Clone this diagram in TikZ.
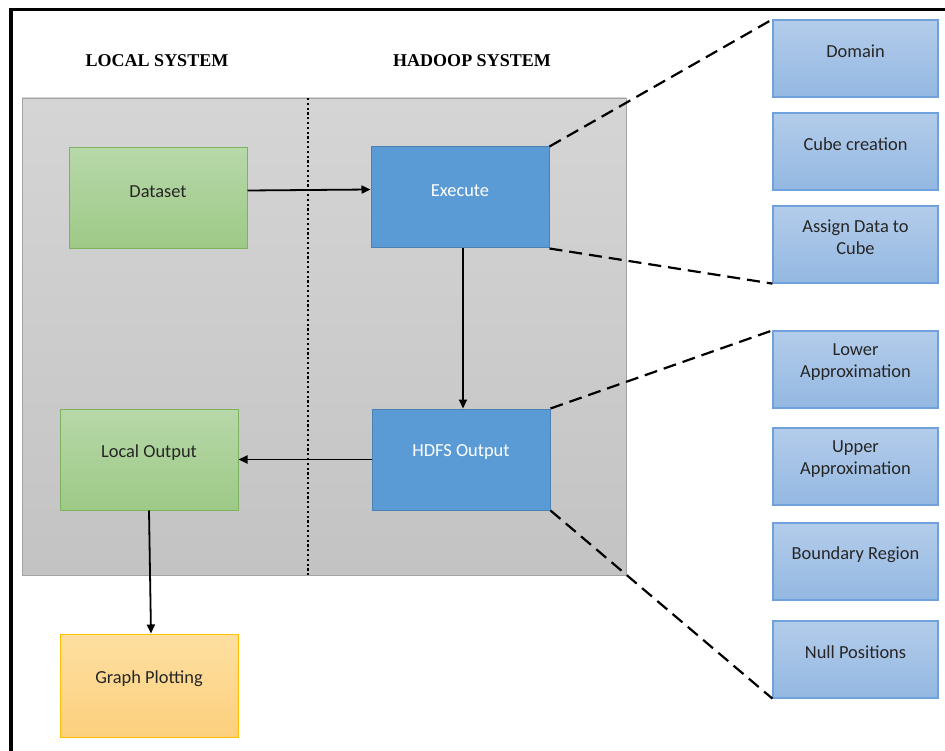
\documentclass[tikz,border=0pt]{standalone}
\usepackage{fontspec}
\setmainfont{Carlito}
\newfontfamily\headfont{Liberation Serif}
\usetikzlibrary{arrows.meta}

\definecolor{areatop}{HTML}{D5D5D5}
\definecolor{areabot}{HTML}{C3C3C3}
\definecolor{arealine}{HTML}{A3A3A3}
\definecolor{greentop}{HTML}{B7D8A9}
\definecolor{greenbot}{HTML}{9DC986}
\definecolor{greenline}{HTML}{7DB35E}
\definecolor{bluefill}{HTML}{5B9BD5}
\definecolor{blueline}{HTML}{4A80B4}
\definecolor{steptop}{HTML}{B3CCEA}
\definecolor{stepbot}{HTML}{94B8E2}
\definecolor{stepline}{HTML}{6FA1DD}
\definecolor{plottop}{HTML}{FEDFA1}
\definecolor{plotbot}{HTML}{FCD07D}
\definecolor{plotline}{HTML}{FFC000}
\definecolor{txt}{HTML}{262626}

\begin{document}
\begin{tikzpicture}[x=1pt, y=1pt, node distance={93pt},
    boxtext/.style={yshift=7pt, align=center, text=txt, font=\fontsize{18.4}{22}\selectfont},
    whitetext/.style={boxtext, text=white},
    heading/.style={font=\headfont\bfseries\fontsize{18}{20}\selectfont},
    greenbox/.style={draw=greenline, line width=1pt, top color=greentop, bottom color=greenbot, minimum width=178pt, minimum height=101pt},
    bluebox/.style={draw=blueline, line width=1pt, fill=bluefill, minimum width=178pt, minimum height=101pt},
    plotbox/.style={draw=plotline, line width=1pt, top color=plottop, bottom color=plotbot, minimum width=178pt, minimum height=103pt},
    stepbox/.style={draw=stepline, line width=1.2pt, top color=steptop, bottom color=stepbot, minimum width=165pt, minimum height=77pt},
    flow/.style={line width=1.8pt, -{Triangle[length=9pt,width=8pt]}},
    zoomline/.style={line width=2.2pt, dash pattern=on 13pt off 7pt}
  ]
    \useasboundingbox (0,0) rectangle (945,-751);
    \draw[line width=3.6pt] (11,-751) -- (11,-9.5) -- (945,-9.5);

    \node[heading] (localhead) at (157,-61) {LOCAL SYSTEM};
    \node[heading] (hadoophead) at (472,-61) {HADOOP SYSTEM};

    \draw[draw=arealine, line width=0.8pt, top color=areatop, bottom color=areabot] (22,-98) rectangle (626,-575);
    \draw[line width=2.2pt, dash pattern=on 2.2pt off 2.6pt] (308,-98) -- (308,-575);

    \node[greenbox, label={[boxtext]center:Dataset}] (dataset) at (158,-198.5) {};
    \node[bluebox, label={[whitetext]center:Execute}] (execute) at (460,-197.5) {};
    \node[bluebox, label={[whitetext]center:HDFS Output}] (hdfs) at (461,-459.5) {};
    \node[greenbox, label={[boxtext]center:Local Output}] (localout) at (149,-459.5) {};
    \node[plotbox, label={[boxtext]center:Graph Plotting}] (plotting) at (149,-685.5) {};

    \node[stepbox, label={[boxtext]center:Domain}] (domain) at (855.5,-58.5) {};
    \node[stepbox, label={[boxtext]center:Cube creation}] (cube) [below of=domain] {};
    \node[stepbox, label={[boxtext]center:{Assign Data to\\Cube}}] (assign) [below of=cube] {};
    \node[stepbox, label={[boxtext]center:{Lower\\Approximation}}] (lower) at (855.5,-369.5) {};
    \node[stepbox, label={[boxtext]center:{Upper\\Approximation}}, node distance={97pt}] (upper) [below of=lower] {};
    \node[stepbox, label={[boxtext]center:Boundary Region}, node distance={95pt}] (boundary) [below of=upper] {};
    \node[stepbox, label={[boxtext]center:Null Positions}, node distance={98pt}] (nullpos) [below of=boundary] {};

    \draw[flow] ([yshift=8pt]dataset.east) -- ([yshift=8pt]execute.west);
    \draw[flow] ([xshift=3pt]execute.south) -- ([xshift=2pt]hdfs.north);
    \draw[flow] (hdfs.west) -- (localout.east);
    \draw[flow] (localout.south) -- ([xshift=2pt]plotting.north);

    \draw[zoomline] (execute.north east) -- (domain.north west);
    \draw[zoomline] (execute.south east) -- (assign.south west);
    \draw[zoomline] (hdfs.north east) -- (lower.north west);
    \draw[zoomline] (hdfs.south east) -- (nullpos.south west);
  \end{tikzpicture}
\end{document}
